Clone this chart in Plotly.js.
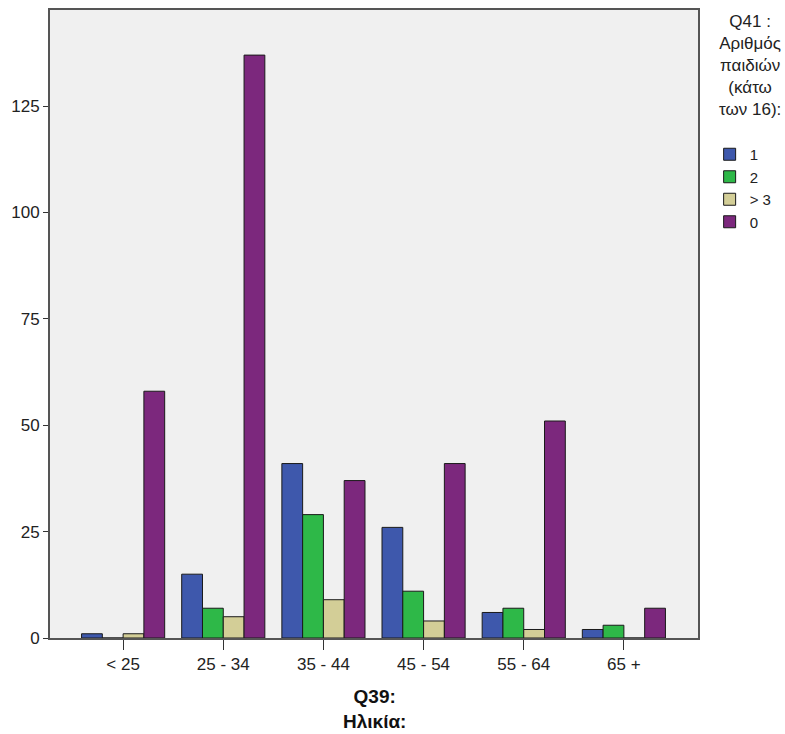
<!DOCTYPE html>
<html>
<head>
<meta charset="utf-8">
<script src="https://cdn.plot.ly/plotly-3.0.1.min.js"></script>
<style>html,body{margin:0;padding:0;background:#fff;}#chart{width:785px;height:734px;}</style>
</head>
<body>
<div id="chart"></div>
<script>
const categories = ["< 25", "25 - 34", "35 - 44", "45 - 54", "55 - 64", "65 +"];
const seriesNames = ["1", "2", "> 3", "0"];
const values1 = [1, 15, 41, 26, 6, 2];
const values2 = [0, 7, 29, 11, 7, 3];
const values3 = [1, 5, 9, 4, 2, 0];
const values0 = [58, 137, 37, 41, 51, 7];
const seriesValues = [values1, values2, values3, values0];
const colors = ["#3E58AC", "#2EB848", "#D3CE97", "#7C287D"];
const yTicks = [0, 25, 50, 75, 100, 125];
const xTitle = "<b>Q39:<br>Ηλικία:</b>";
const legendTitle = "Q41 :<br>Αριθμός<br>παιδιών<br>(κάτω<br>των 16):";

const font = "Liberation Sans, Arial, sans-serif";
const traces = seriesNames.map((n, i) => ({
  type: "bar",
  name: n,
  x: categories,
  y: seriesValues[i],
  marker: { color: colors[i], line: { color: "#1a1a1a", width: 1 } },
  hoverinfo: "x+y+name"
}));

const plotW = 785 - 50 - 87;
const plotH = 734 - 10 - 96;
const layout = {
  width: 785, height: 734,
  margin: { l: 50, r: 87, t: 10, b: 96 },
  paper_bgcolor: "#ffffff",
  plot_bgcolor: "#F0F0F0",
  barmode: "group",
  bargap: 0.17,
  bargroupgap: 0,
  font: { family: font, size: 17, color: "#222" },
  showlegend: true,
  legend: {
    x: 0.904, xref: "container", xanchor: "left",
    y: 1 - 138 / 734, yref: "container", yanchor: "top",
    bgcolor: "rgba(0,0,0,0)",
    font: { family: font, size: 15, color: "#222" },
    tracegroupgap: 0
  },
  xaxis: {
    type: "category",
    range: [-0.73, 5.74],
    showline: true, linecolor: "#555", linewidth: 2, mirror: true,
    ticks: "outside", ticklen: 10, tickcolor: "#333", tickwidth: 1,
    showgrid: false, zeroline: false,
    tickfont: { family: font, size: 17, color: "#222" }
  },
  yaxis: {
    range: [0, 147.6],
    tickvals: yTicks,
    ticktext: yTicks.map(String),
    showline: true, linecolor: "#555", linewidth: 2, mirror: true,
    ticks: "outside", ticklen: 5, tickcolor: "#333", tickwidth: 1,
    showgrid: false, zeroline: false,
    tickfont: { family: font, size: 17, color: "#222" }
  },
  annotations: [
    {
      text: xTitle,
      xref: "paper", x: 0.5, xanchor: "center",
      yref: "paper", y: -70.5 / plotH, yanchor: "middle",
      showarrow: false, align: "center",
      font: { family: font, size: 19, color: "#111" }
    },
    {
      text: legendTitle,
      xref: "paper", x: (750 - 50) / plotW, xanchor: "center",
      yref: "paper", y: 1.0, yanchor: "top",
      showarrow: false, align: "center",
      font: { family: font, size: 17, color: "#222" }
    }
  ]
};

Plotly.newPlot("chart", traces, layout, { displayModeBar: false, staticPlot: true });
</script>
</body>
</html>
